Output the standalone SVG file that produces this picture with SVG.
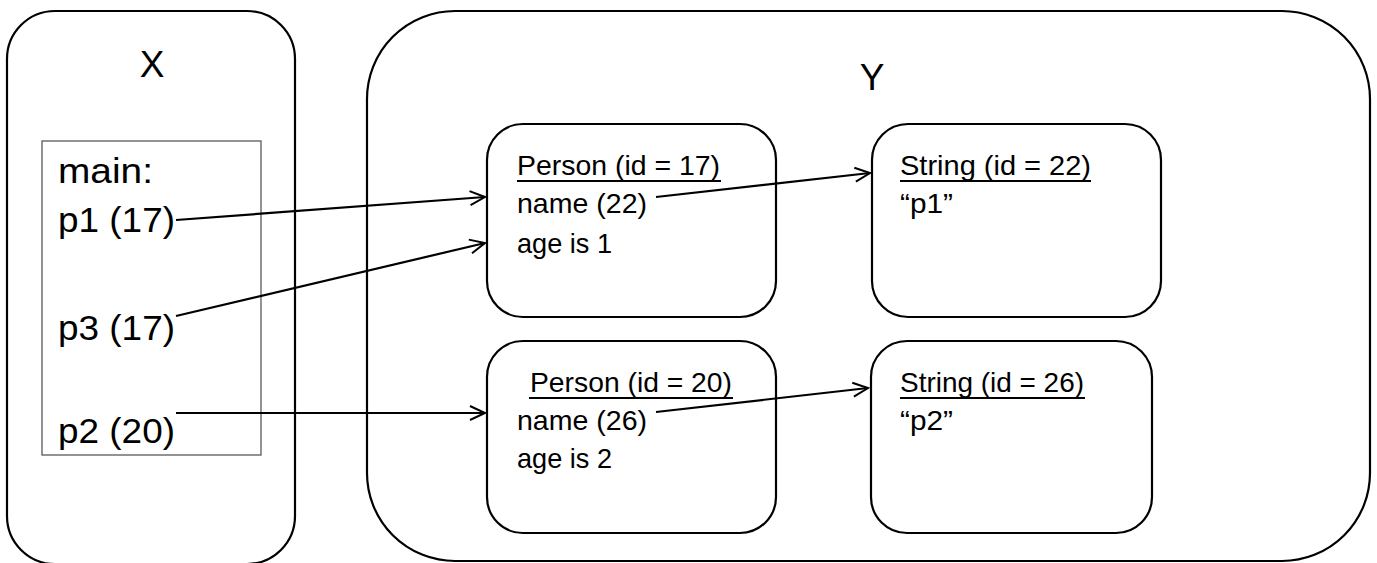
<svg xmlns="http://www.w3.org/2000/svg" width="1377" height="563" viewBox="0 0 1377 563">
<defs>
<marker id="arr" markerUnits="userSpaceOnUse" markerWidth="20" markerHeight="20" refX="16" refY="8" orient="auto" viewBox="0 0 20 16">
<path d="M1,1 L16,8 L1,15" fill="none" stroke="#000" stroke-width="2"/>
</marker>
<style>
.box{fill:none;stroke:#000;stroke-width:2.2}
.frame{fill:none;stroke:#595959;stroke-width:1.3}
.t{font-family:"Liberation Sans",Arial,sans-serif;fill:#000}
.big{font-size:37px}
.mid{font-size:35px}
.sm{font-size:28px}
.ul{stroke:#000;stroke-width:2}
.c{fill:none;stroke:#000;stroke-width:2.2}
</style>
</defs>
<rect width="1377" height="563" fill="#fff"/>
<g id="X">
<rect class="box" x="7" y="11" width="288" height="553" rx="48" ry="48"/>
<text class="t big" x="152" y="77" text-anchor="middle">X</text>
</g>
<g id="main">
<rect class="frame" x="42" y="141" width="219" height="314"/>
<text class="t mid" x="58" y="183" textLength="95" lengthAdjust="spacingAndGlyphs">main:</text>
<text class="t mid" x="58" y="232" textLength="117" lengthAdjust="spacingAndGlyphs">p1 (17)</text>
<text class="t mid" x="58" y="340" textLength="117" lengthAdjust="spacingAndGlyphs">p3 (17)</text>
<text class="t mid" x="58" y="443" textLength="117" lengthAdjust="spacingAndGlyphs">p2 (20)</text>
</g>
<g id="Y">
<rect class="box" x="367" y="11" width="1003" height="550" rx="88" ry="88"/>
<text class="t big" x="872" y="90" text-anchor="middle">Y</text>
</g>
<g id="person17">
<rect class="box" x="487" y="124" width="289" height="193" rx="36" ry="36"/>
<text class="t sm" x="517" y="175" textLength="203" lengthAdjust="spacingAndGlyphs">Person (id = 17)</text>
<line class="ul" x1="517" y1="181" x2="721" y2="181"/>
<text class="t sm" x="517" y="213" textLength="130" lengthAdjust="spacingAndGlyphs">name (22)</text>
<text class="t sm" x="517" y="253" textLength="95" lengthAdjust="spacingAndGlyphs">age is 1</text>
</g>
<g id="person20">
<rect class="box" x="487" y="341" width="289" height="192" rx="36" ry="36"/>
<text class="t sm" x="530" y="392" textLength="202" lengthAdjust="spacingAndGlyphs">Person (id = 20)</text>
<line class="ul" x1="529" y1="398" x2="733" y2="398"/>
<text class="t sm" x="517" y="430" textLength="130" lengthAdjust="spacingAndGlyphs">name (26)</text>
<text class="t sm" x="517" y="468" textLength="95" lengthAdjust="spacingAndGlyphs">age is 2</text>
</g>
<g id="string22">
<rect class="box" x="872" y="124" width="289" height="193" rx="36" ry="36"/>
<text class="t sm" x="900" y="175" textLength="191" lengthAdjust="spacingAndGlyphs">String (id = 22)</text>
<line class="ul" x1="900" y1="181" x2="1091" y2="181"/>
<text class="t sm" x="900" y="213" textLength="53" lengthAdjust="spacingAndGlyphs">“p1”</text>
</g>
<g id="string26">
<rect class="box" x="871" y="341" width="281" height="192" rx="36" ry="36"/>
<text class="t sm" x="900" y="392" textLength="184" lengthAdjust="spacingAndGlyphs">String (id = 26)</text>
<line class="ul" x1="900" y1="398" x2="1085" y2="398"/>
<text class="t sm" x="900" y="430" textLength="53" lengthAdjust="spacingAndGlyphs">“p2”</text>
</g>
<g id="connectors">
<line class="c" x1="176" y1="220" x2="485" y2="197" marker-end="url(#arr)"/>
<line class="c" x1="176" y1="316" x2="485" y2="243" marker-end="url(#arr)"/>
<line class="c" x1="176" y1="413" x2="485" y2="413" marker-end="url(#arr)"/>
<line class="c" x1="656" y1="197" x2="870" y2="173" marker-end="url(#arr)"/>
<line class="c" x1="656" y1="412" x2="868" y2="388" marker-end="url(#arr)"/>
</g>
</svg>
